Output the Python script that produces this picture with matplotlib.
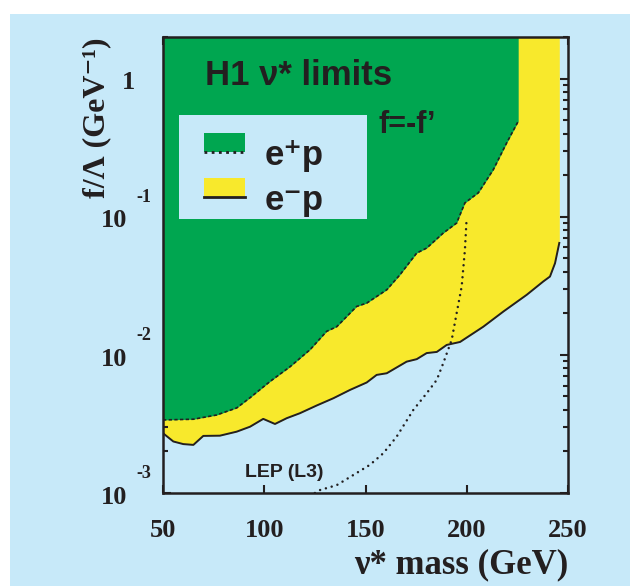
import matplotlib
matplotlib.use("Agg")
import matplotlib.pyplot as plt
import matplotlib.transforms as mtransforms
from matplotlib.patches import Rectangle

# e+p limit (dashed boundary of the green region)
ep_mass = [50, 65, 76.5, 86.4, 93, 102.8, 112.7, 122.6, 130.8, 135.8, 145.6, 150.6,
           160.5, 167, 175.3, 180.2, 188.4, 195, 199.1, 205.7, 213.1, 219.7, 225.4]
ep_limit = [3.38e-3, 3.42e-3, 3.67e-3, 4.13e-3, 4.9e-3, 6.41e-3, 8.2e-3, 1.09e-2,
            1.48e-2, 1.60e-2, 2.24e-2, 2.37e-2, 2.96e-2, 3.80e-2, 5.46e-2, 5.93e-2,
            7.62e-2, 9.0e-2, 0.126, 0.149, 0.219, 0.342, 0.49]

# e-p limit (solid boundary of the yellow region)
em_mass = [50, 55.1, 60, 65, 69.9, 78.1, 86.4, 93, 99.5, 105.3, 111.1, 117.6, 125.9,
           134.1, 142.3, 150.6, 155.5, 160.5, 170.3, 175.3, 180.2, 185.2, 190.1,
           196.7, 208.2, 218.1, 229.6, 237.8, 241.1, 243.6, 245.7]
em_limit = [2.71e-3, 2.36e-3, 2.26e-3, 2.23e-3, 2.59e-3, 2.60e-3, 2.78e-3, 3.02e-3,
            3.44e-3, 3.16e-3, 3.48e-3, 3.78e-3, 4.30e-3, 4.85e-3, 5.57e-3, 6.31e-3,
            7.16e-3, 7.36e-3, 8.93e-3, 9.31e-3, 1.03e-2, 1.05e-2, 1.18e-2, 1.24e-2,
            1.60e-2, 2.06e-2, 2.72e-2, 3.40e-2, 3.69e-2, 4.61e-2, 6.46e-2]

# LEP (L3) limit, dotted
lep_mass = [125, 127.5, 135.8, 144, 152.2, 158.8, 165.4, 173.6, 180.2, 185.2, 188.4,
            192.6, 195, 197.5, 199.1, 199.9]
lep_limit = [1.0e-3, 1.05e-3, 1.14e-3, 1.35e-3, 1.60e-3, 1.94e-3, 2.56e-3, 3.99e-3,
             5.27e-3, 6.59e-3, 8.71e-3, 1.29e-2, 2.0e-2, 3.13e-2, 5.77e-2, 9.5e-2]

x_ticks = [50, 100, 150, 200, 250]
y_ticks = [1e-3, 1e-2, 1e-1, 1]
y_exps = ["-3", "-2", "-1", ""]
y_top = 2.0

green = "#00a650"
yellow = "#f8e92c"
blue = "#c7e9f9"
dark = "#231f20"

serif = ["Liberation Serif", "DejaVu Serif"]
sans_fam = ["Liberation Sans", "DejaVu Sans"]

fig = plt.figure(figsize=(6.3, 5.86), dpi=100, facecolor="white")
fig.patches.append(Rectangle((10 / 630, 0), 1, 1 - 14 / 586, transform=fig.transFigure,
                             facecolor=blue, edgecolor="none", zorder=-10))
ax = fig.add_axes([163 / 630, 1 - 493 / 586, 405 / 630, 456 / 586])
ax.set_facecolor(blue)
ax.set_yscale("log")
ax.set_xlim(50, 250)
ax.set_ylim(1e-3, y_top)

# excluded regions
ax.fill_between(em_mass, em_limit, y_top, color=yellow, lw=0, zorder=1)
ax.plot(lep_mass, lep_limit, color=dark, lw=1.8, linestyle=(0, (0.01, 2.4)),
        dash_capstyle="round", zorder=2)
ax.fill_between(ep_mass, ep_limit, y_top, color=green, lw=0, zorder=3)
ax.plot(ep_mass, ep_limit, color=dark, lw=1.2, linestyle=(0, (2, 1.4)), zorder=4)
ax.plot(em_mass, em_limit, color=dark, lw=1.4, zorder=4)

for s in ax.spines.values():
    s.set_linewidth(1.8)
    s.set_color(dark)
    s.set_zorder(6)

ax.set_xticks(x_ticks)
ax.set_xticklabels([str(v) for v in x_ticks], family=serif,
                   fontweight="bold", fontsize=19, color=dark)
ax.set_yticks(y_ticks)
ax.set_yticklabels([])
ax.tick_params(which="both", direction="in", top=True, right=True, color=dark, zorder=7)
ax.tick_params(which="major", length=6, width=1.5)
ax.tick_params(which="minor", length=3.5, width=1.5)
ax.tick_params(axis="x", pad=19)

# ROOT-style y tick labels
trans = mtransforms.blended_transform_factory(ax.transAxes, ax.transData)
for v, e in zip(y_ticks, y_exps):
    if e == "":
        ax.annotate("1", xy=(-0.069, v), xycoords=trans, xytext=(0, -3),
                    textcoords="offset points", ha="right", va="center",
                    family=serif, fontweight="bold", fontsize=19, color=dark)
        continue
    ax.annotate("10", xy=(-0.089, v), xycoords=trans, xytext=(0, -3),
                textcoords="offset points", ha="right", va="center",
                family=serif, fontweight="bold", fontsize=19, color=dark)
    ax.annotate(e, xy=(-0.066, v), xycoords=trans, xytext=(0, 14),
                textcoords="offset points", ha="left", va="center",
                family=serif, fontweight="bold", fontsize=13, color=dark)

ax.set_xlabel("ν* mass (GeV)", family=serif, fontweight="bold",
              fontsize=25, color=dark, loc="right", labelpad=4)
ax.set_ylabel("f/Λ (GeV⁻¹)", family=serif, fontweight="bold",
              fontsize=23, color=dark, loc="top", labelpad=34)

# in-plot texts
sans = dict(family=sans_fam, fontweight="bold", color=dark)
ax.text(0.104, 0.895, "H1 ν* limits", transform=ax.transAxes, fontsize=25, **sans)
ax.text(0.531, 0.789, "f=-f’", transform=ax.transAxes, fontsize=22, **sans)
ax.text(0.2025, 0.035, "LEP (L3)", transform=ax.transAxes, fontsize=14, **sans)

# legend box
ax.add_patch(Rectangle((0.0395, 0.601), 0.4645, 0.228, transform=ax.transAxes,
                       facecolor=blue, edgecolor="none", zorder=5))
ax.add_patch(Rectangle((0.101, 0.748), 0.1015, 0.0415, transform=ax.transAxes,
                       facecolor=green, edgecolor="none", zorder=5))
ax.plot([0.101, 0.2025], [0.748, 0.748], transform=ax.transAxes, color=dark, lw=2,
        linestyle=(0, (1, 1.6)), zorder=6)
ax.add_patch(Rectangle((0.101, 0.649), 0.1015, 0.0415, transform=ax.transAxes,
                       facecolor=yellow, edgecolor="none", zorder=5))
ax.plot([0.101, 0.2025], [0.649, 0.649], transform=ax.transAxes, color=dark, lw=2,
        zorder=6)
ax.text(0.252, 0.719, "e⁺p", transform=ax.transAxes, fontsize=25,
        va="baseline", zorder=6, **sans)
ax.text(0.252, 0.621, "e⁻p", transform=ax.transAxes, fontsize=25,
        va="baseline", zorder=6, **sans)

fig.savefig("out.png", dpi=100, facecolor="white")
